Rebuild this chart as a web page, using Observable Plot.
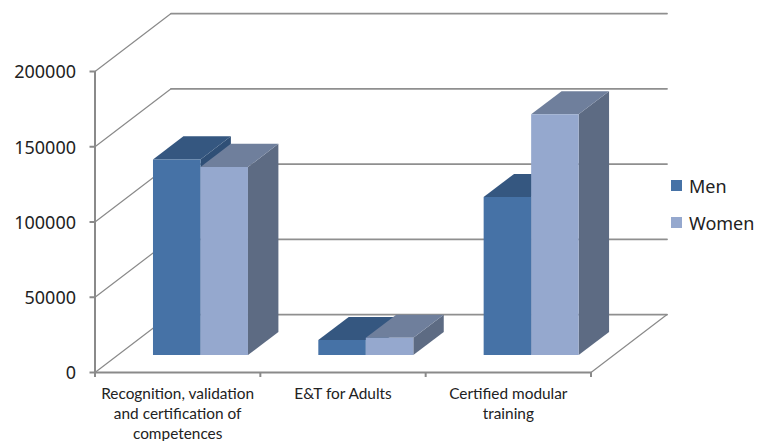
<!DOCTYPE html>
<html>
<head>
<meta charset="utf-8">
<script src="https://cdn.jsdelivr.net/npm/d3@7"></script>
<script src="https://cdn.jsdelivr.net/npm/@observablehq/plot@0.6"></script>
<style>
  html, body { margin: 0; padding: 0; background: #fff; }
  #chart { position: relative; width: 757px; height: 441px; overflow: hidden; }
  #chart svg { position: absolute; left: 0; top: 0; }
  .legend { position: absolute; left: 671px; top: 167px; font: 18px "Noto Sans", sans-serif; color: #222; }
  .legend div { display: flex; align-items: center; height: 37px; }
  .legend i { display: block; width: 11px; height: 11px; margin-right: 7px; }
</style>
</head>
<body>
<div id="chart"></div>
<script>
// Participants by type of provision
const categories = ["Recognition, validation\nand certification of\ncompetences", "E&T for Adults", "Certified modular\ntraining"];
const men = [130000, 10000, 105000];
const women = [125000, 11500, 160000];
const valueTicks = [0, 50000, 100000, 150000, 200000];

// Oblique projection: how far one full unit of depth moves a point
const depthX = 0.46;      // in categories
const depthY = 38500;     // in value units
const project = (cat, value, depth) => ({x: cat + depth * depthX, y: value + depth * depthY});

// Bar box inside a category slot
const barWidth = 0.2873;
const barStart = (1 - 2 * barWidth) / 2;
const depthFront = 0.3;
const depthBack = 0.7;

const gridColor = "#8a8a8a";

// Left wall diagonals and back wall horizontals
const wallDiagonals = valueTicks.flatMap((v) =>
  [project(0, v, 0), project(0, v, 1)].map((p) => ({...p, key: v}))
);
const wallHorizontals = valueTicks.flatMap((v) =>
  [project(0, v, 1), project(categories.length, v, 1)].map((p) => ({...p, key: v}))
);
const floorEdge = [project(categories.length, 0, 0), project(categories.length, 0, 1)];
const frontEdge = [project(0, 0, 0), project(categories.length, 0, 0)];
const leftEdge = [project(0, 0, 0), project(0, 200000, 0)];

// One polygon per face of a bar; consecutive rows sharing a key form the outline
function faces(values, seriesIndex) {
  const out = {front: [], top: [], side: []};
  values.forEach((v, i) => {
    const a = i + barStart + seriesIndex * barWidth;
    const b = a + barWidth;
    const add = (name, pts) => pts.forEach(([c, val, d]) => out[name].push({...project(c, val, d), key: i}));
    add("front", [[a, 0, depthFront], [b, 0, depthFront], [b, v, depthFront], [a, v, depthFront]]);
    add("top", [[a, v, depthFront], [b, v, depthFront], [b, v, depthBack], [a, v, depthBack]]);
    add("side", [[b, 0, depthFront], [b, 0, depthBack], [b, v, depthBack], [b, v, depthFront]]);
  });
  return out;
}

function barMarks(values, seriesIndex, colors) {
  const f = faces(values, seriesIndex);
  const face = (rows, fill) => Plot.line(rows, {x: "x", y: "y", z: "key", fill, stroke: "none"});
  return [face(f.side, colors.side), face(f.top, colors.top), face(f.front, colors.front)];
}

const chart = Plot.plot({
  width: 757,
  height: 441,
  marginLeft: 94.5,
  marginRight: 166.5,
  marginTop: 71,
  marginBottom: 69,
  style: {background: "transparent", overflow: "visible"},
  x: {domain: [0, categories.length]},
  y: {domain: [0, 200000]},
  marks: [
    Plot.line(wallDiagonals, {x: "x", y: "y", z: "key", stroke: gridColor, strokeWidth: 1.2}),
    Plot.line(wallHorizontals, {x: "x", y: "y", z: "key", stroke: "#8f8f8f", strokeWidth: 1.7}),
    Plot.line(floorEdge, {x: "x", y: "y", stroke: gridColor, strokeWidth: 1.2}),
    ...barMarks(men, 0, {front: "#4672a6", top: "#355780", side: "#2f4f76"}),
    ...barMarks(women, 1, {front: "#95a8ce", top: "#6f7f9c", side: "#5d6b83"}),
    Plot.line(leftEdge, {x: "x", y: "y", stroke: gridColor, strokeWidth: 2}),
    Plot.line(frontEdge, {x: "x", y: "y", stroke: gridColor, strokeWidth: 2}),
    Plot.axisY({
      ticks: valueTicks,
      tickFormat: () => "",
      tickSize: 5,
      stroke: gridColor,
      strokeWidth: 2,
      label: null
    }),
    Plot.axisY({
      ticks: valueTicks,
      tickFormat: "d",
      tickSize: 0,
      tickPadding: 19,
      dy: 1,
      fill: "#222",
      fontSize: 18,
      fontFamily: "Noto Sans",
      label: null
    }),
    Plot.axisX({
      ticks: d3.range(categories.length + 1),
      tickSize: 5,
      tickFormat: () => "",
      stroke: gridColor,
      strokeWidth: 2,
      label: null
    }),
    Plot.text(categories, {
      x: (d, i) => i + 0.5,
      y: () => 0,
      text: (d) => d,
      dy: 12,
      lineAnchor: "top",
      lineHeight: 1.3,
      fontSize: 15.4,
      fontFamily: "Lato",
      fill: "#222"
    })
  ]
});

const host = document.getElementById("chart");
host.append(chart);

// Legend sits to the right of the plot
const legend = document.createElement("div");
legend.className = "legend";
[["Men", "#4672a6"], ["Women", "#95a8ce"]].forEach(([name, color]) => {
  const row = document.createElement("div");
  const swatch = document.createElement("i");
  swatch.style.background = color;
  row.append(swatch, name);
  legend.append(row);
});
host.append(legend);
</script>
</body>
</html>
